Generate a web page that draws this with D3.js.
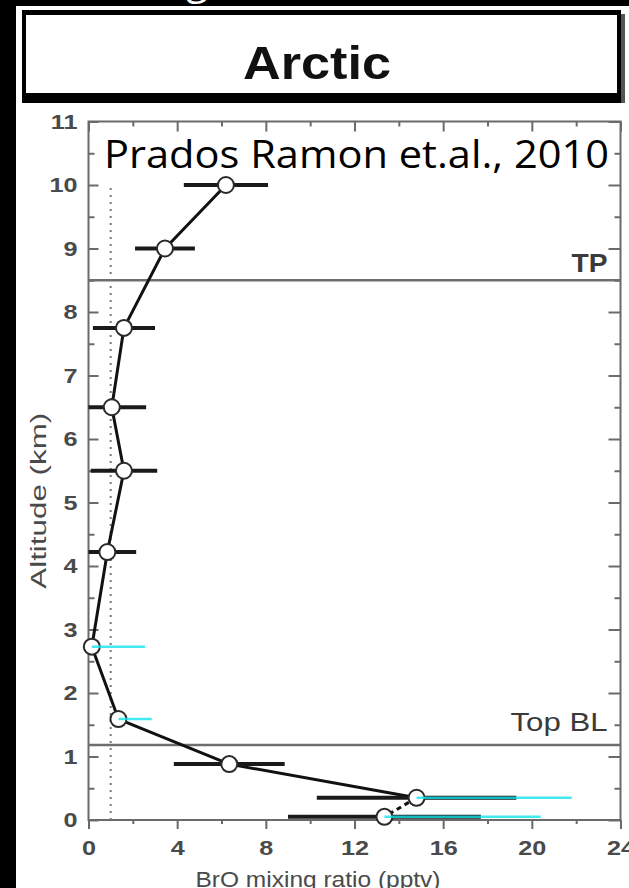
<!DOCTYPE html>
<html>
<head>
<meta charset="utf-8">
<script src="https://cdn.jsdelivr.net/npm/d3@7"></script>
<style>
  html, body { margin: 0; padding: 0; background: #000; }
  svg { display: block; }
</style>
</head>
<body>
<svg id="chart" width="629" height="888"></svg>
<script>
// BrO vertical profile, Arctic (balloon / aircraft retrieval)
const altitudes  = [10, 9, 7.75, 6.5, 5.5, 4.22, 2.73, 1.59, 0.88, 0.35, 0.05];      // km
const broMixing  = [6.2, 3.45, 1.6, 1.05, 1.6, 0.85, 0.15, 1.35, 6.35, 14.8, 13.35]; // pptv
const broError   = [1.9, 1.35, 1.4, 1.55, 1.5, 1.3, null, null, 2.5, 4.5, 4.35];     // ± pptv
const broUpper2  = [null, null, null, null, null, null, 2.55, 2.85, null, 21.8, 20.4]; // upper bound, second estimate
const xTicks     = [0, 4, 8, 12, 16, 20, 24];
const yTicks     = [0, 1, 2, 3, 4, 5, 6, 7, 8, 9, 10, 11];
const refLines   = [{ alt: 8.5, label: "TP" }, { alt: 1.18, label: "Top BL" }];
const detectionLimit = 1;      // pptv
const detectionTop   = 10;     // km

const svg = d3.select("#chart");
const W = 629, H = 888;

// slide background and the pasted figure
svg.append("rect").attr("width", W).attr("height", H).attr("fill", "#000");
svg.append("rect").attr("x", 16).attr("y", 6).attr("width", W - 16).attr("height", H - 6).attr("fill", "#fff");

// slide title running above the figure (only its descenders fall inside)
const slideTitle = svg.append("text")
  .attr("y", -6).attr("fill", "#fff")
  .style("font-family", "'Open Sans', sans-serif").style("font-size", "40px");
slideTitle.append("tspan").attr("x", 186).text("g");
slideTitle.append("tspan").attr("x", 352).text(",");

// title box
svg.append("rect").attr("x", 22).attr("y", 10).attr("width", 599).attr("height", 93).attr("fill", "#000");
svg.append("rect").attr("x", 621).attr("y", 14).attr("width", 4).attr("height", 89).attr("fill", "#555");
svg.append("rect").attr("x", 26).attr("y", 15).attr("width", 591).attr("height", 78).attr("fill", "#fff");
svg.append("text")
  .attr("x", 317).attr("y", 79)
  .attr("text-anchor", "middle")
  .attr("textLength", 148).attr("lengthAdjust", "spacingAndGlyphs")
  .style("font-family", "'Liberation Sans', Arial, sans-serif")
  .style("font-weight", "bold").style("font-size", "46px")
  .attr("fill", "#111")
  .text("Arctic");

// plot scales
const x = d3.scaleLinear().domain([0, 24]).range([88.5, 620.5]);
const y = d3.scaleLinear().domain([0, 11]).range([820, 121.5]);
const axisColor = "#6a6a6a";
const labelColor = "#4a4a4a";

function styleAxis(g) {
  g.select(".domain").remove();
  g.selectAll(".tick line").attr("stroke", axisColor).attr("stroke-width", 2);
  g.selectAll(".tick text")
    .attr("fill", labelColor)
    .style("font-family", "'Liberation Sans', Arial, sans-serif")
    .style("font-weight", "bold")
    .style("font-size", "21px");
}
function widen(g, k) {
  g.selectAll(".tick text").each(function () {
    const w = this.getComputedTextLength();
    this.setAttribute("textLength", w * k);
    this.setAttribute("lengthAdjust", "spacingAndGlyphs");
  });
}

const minorX = d3.range(0, 24.01, 2).filter(v => v % 4 !== 0);
const minorY = d3.range(0.5, 11, 1);

// bottom axis: outward ticks with labels
const gB = svg.append("g").attr("transform", `translate(0,${y(0)})`)
  .call(d3.axisBottom(x).tickValues(xTicks).tickSize(9).tickPadding(11).tickFormat(d3.format("d")));
styleAxis(gB); widen(gB, 1.2);
const gBm = svg.append("g").attr("transform", `translate(0,${y(0)})`)
  .call(d3.axisBottom(x).tickValues(minorX).tickSize(4).tickFormat(""));
styleAxis(gBm);

// top axis: inward ticks
const gT = svg.append("g").attr("transform", `translate(0,${y(11)})`)
  .call(d3.axisTop(x).tickValues(xTicks).tickSize(-10).tickFormat(""));
styleAxis(gT);
const gTm = svg.append("g").attr("transform", `translate(0,${y(11)})`)
  .call(d3.axisTop(x).tickValues(minorX).tickSize(-5).tickFormat(""));
styleAxis(gTm);

// left axis: inward ticks with labels
const gL = svg.append("g").attr("transform", `translate(${x(0)},0)`)
  .call(d3.axisLeft(y).tickValues(yTicks).tickSize(-10).tickPadding(11).tickFormat(d3.format("d")));
styleAxis(gL); widen(gL, 1.2);
const gLm = svg.append("g").attr("transform", `translate(${x(0)},0)`)
  .call(d3.axisLeft(y).tickValues(minorY).tickSize(-6).tickFormat(""));
styleAxis(gLm);

// right axis: inward ticks
const gR = svg.append("g").attr("transform", `translate(${x(24)},0)`)
  .call(d3.axisRight(y).tickValues(yTicks).tickSize(-12).tickFormat(""));
styleAxis(gR);
const gRm = svg.append("g").attr("transform", `translate(${x(24)},0)`)
  .call(d3.axisRight(y).tickValues(minorY).tickSize(-6).tickFormat(""));
styleAxis(gRm);

// frame
svg.append("rect")
  .attr("x", x(0)).attr("y", y(11))
  .attr("width", x(24) - x(0)).attr("height", y(0) - y(11))
  .attr("fill", "none").attr("stroke", axisColor).attr("stroke-width", 2);

// axis titles
svg.append("text")
  .attr("transform", `translate(46,${(y(0) + y(11)) / 2 + 30}) rotate(-90)`)
  .attr("text-anchor", "middle")
  .attr("textLength", 176).attr("lengthAdjust", "spacingAndGlyphs")
  .attr("fill", labelColor)
  .style("font-family", "'Liberation Sans', Arial, sans-serif")
  .style("font-size", "22px")
  .text("Altitude (km)");
svg.append("text")
  .attr("x", 318).attr("y", 887)
  .attr("text-anchor", "middle")
  .attr("textLength", 245).attr("lengthAdjust", "spacingAndGlyphs")
  .attr("fill", labelColor)
  .style("font-family", "'Liberation Sans', Arial, sans-serif")
  .style("font-size", "22px")
  .text("BrO mixing ratio (pptv)");

// tropopause and boundary-layer top
refLines.forEach((r, i) => {
  svg.append("line")
    .attr("x1", x(0)).attr("x2", x(24))
    .attr("y1", y(r.alt)).attr("y2", y(r.alt))
    .attr("stroke", "#6e6e6e").attr("stroke-width", 2.5);
  svg.append("text")
    .attr("x", x(24) - 13).attr("y", y(r.alt) - (i === 0 ? 8 : 14))
    .attr("text-anchor", "end")
    .attr("textLength", i === 0 ? 36 : 97).attr("lengthAdjust", "spacingAndGlyphs")
    .attr("fill", "#3a3a3a")
    .style("font-family", "'Liberation Sans', Arial, sans-serif")
    .style("font-weight", i === 0 ? "bold" : "normal")
    .style("font-size", "25px")
    .text(r.label);
});

// detection limit
svg.append("line")
  .attr("x1", x(detectionLimit)).attr("x2", x(detectionLimit))
  .attr("y1", y(0)).attr("y2", y(detectionTop))
  .attr("stroke", "#777").attr("stroke-width", 2)
  .attr("stroke-dasharray", "2,5");

const pts = altitudes.map((a, i) => ({ alt: a, v: broMixing[i], e: broError[i], u: broUpper2[i] }));

// profile line
const line = d3.line().x(d => x(d.v)).y(d => y(d.alt));
svg.append("path")
  .datum(pts.slice(0, 10))
  .attr("d", line)
  .attr("fill", "none").attr("stroke", "#111").attr("stroke-width", 3)
  .attr("stroke-linejoin", "round");
svg.append("path")
  .datum(pts.slice(9))
  .attr("d", line)
  .attr("fill", "none").attr("stroke", "#111").attr("stroke-width", 3)
  .attr("stroke-dasharray", "5,4");

// error bars
const clampX = v => x(Math.max(0, Math.min(24, v)));
svg.append("g").selectAll("line")
  .data(pts.filter(d => d.e != null))
  .join("line")
  .attr("x1", d => clampX(d.v - d.e)).attr("x2", d => clampX(d.v + d.e))
  .attr("y1", d => y(d.alt)).attr("y2", d => y(d.alt))
  .attr("stroke", "#1a1a1a").attr("stroke-width", 4);

// markers
svg.append("g").selectAll("circle")
  .data(pts)
  .join("circle")
  .attr("cx", d => x(d.v)).attr("cy", d => y(d.alt))
  .attr("r", 8)
  .attr("fill", "#fff").attr("stroke", "#2a2a2a").attr("stroke-width", 2);

// upper bounds from the second estimate
svg.append("g").selectAll("line")
  .data(pts.filter(d => d.u != null))
  .join("line")
  .attr("x1", d => x(d.v)).attr("x2", d => x(d.u))
  .attr("y1", d => y(d.alt)).attr("y2", d => y(d.alt))
  .attr("stroke", "#14e4ee").attr("stroke-opacity", 0.8).attr("stroke-width", 2.5);

// reference
svg.append("text")
  .attr("x", 104).attr("y", 168)
  .attr("textLength", 505).attr("lengthAdjust", "spacingAndGlyphs")
  .attr("fill", "#000")
  .style("font-family", "'Open Sans', sans-serif")
  .style("font-size", "38px")
  .text("Prados Ramon et.al., 2010");
</script>
</body>
</html>
